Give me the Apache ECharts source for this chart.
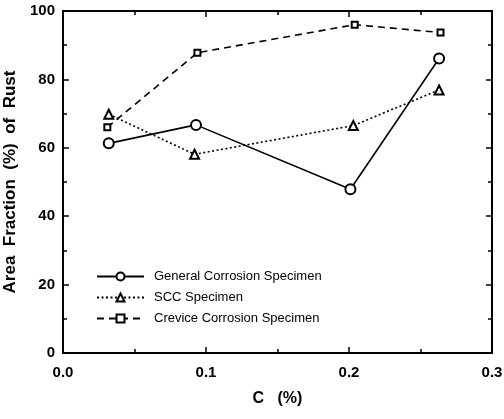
<!DOCTYPE html>
<html><head><meta charset="utf-8">
<script src="https://cdn.jsdelivr.net/npm/echarts@6/dist/echarts.min.js"></script>
<style>html,body{margin:0;padding:0;background:#fff}#c{width:504px;height:419px}</style>
</head><body><div id="c"></div>
<script>
const seriesNames = ["General Corrosion Specimen", "SCC Specimen", "Crevice Corrosion Specimen"];
const generalX = [0.032, 0.093, 0.201, 0.263];
const generalY = [61.3, 66.7, 47.9, 86.1];
const sccX = [0.032, 0.092, 0.203, 0.263];
const sccY = [69.8, 58.1, 66.5, 76.9];
const creviceX = [0.031, 0.094, 0.204, 0.264];
const creviceY = [66.0, 87.8, 96.0, 93.7];
const xTicks = [0.0, 0.1, 0.2, 0.3];
const yTicks = [0, 20, 40, 60, 80, 100];

const FONT = "'Liberation Sans',Arial,sans-serif";
const pair = (xs, ys) => xs.map((x, i) => [x, ys[i]]);

const xMin = xTicks[0], xMax = xTicks[xTicks.length - 1];
const yMin = yTicks[0], yMax = yTicks[yTicks.length - 1];
function axisStyle(extra) {
  return Object.assign({
    axisLine: {show: true, onZero: false, lineStyle: {color: '#000', width: 2}},
    axisTick: {show: true, inside: true, length: 6, lineStyle: {color: '#000', width: 1.5}},
    minorTick: {show: true, splitNumber: 2, length: 4, lineStyle: {color: '#000', width: 1.5}},
    splitLine: {show: false}
  }, extra);
}
const chart = echarts.init(document.getElementById('c'), null, {renderer: 'canvas'});
chart.setOption({
  animation: false,
  backgroundColor: '#fff',
  grid: {left: 63, right: 12, top: 11, bottom: 66, outerBoundsMode: 'none', containLabel: false,
         show: true, borderColor: '#000', borderWidth: 2, backgroundColor: 'transparent'},
  legend: {
    orient: 'vertical', left: 91, top: 265, itemWidth: 47, itemHeight: 10, itemGap: 8,
    data: seriesNames,
    textStyle: {fontFamily: FONT, fontSize: 13, color: '#000', padding: [0, 0, 0, 5]}
  },
  xAxis: [axisStyle({
    type: 'value', min: xMin, max: xMax, interval: 0.1, position: 'bottom',
    name: 'C   (%)', nameLocation: 'middle', nameGap: 38,
    nameTextStyle: {fontFamily: FONT, fontSize: 16, fontWeight: 'bold', color: '#000'},
    axisLabel: {fontFamily: FONT, fontSize: 15, fontWeight: 'bold', color: '#000', margin: 12, formatter: v => v.toFixed(1)}
  }), axisStyle({
    type: 'value', position: 'top', min: xMin, max: xMax, interval: 0.1,
    axisLabel: {show: true, fontSize: 8, color: '#fff', margin: 40}
  })],
  yAxis: [axisStyle({
    type: 'value', min: yMin, max: yMax, interval: 20, position: 'left',
    name: 'Area  Fraction  (%)  of  Rust', nameLocation: 'middle', nameGap: 42,
    nameTextStyle: {fontFamily: FONT, fontSize: 17, fontWeight: 'bold', color: '#000'},
    axisLabel: {fontFamily: FONT, fontSize: 15, fontWeight: 'bold', color: '#000', margin: 8}
  }), axisStyle({
    type: 'value', position: 'right', min: yMin, max: yMax, interval: 20,
    axisLabel: {show: true, fontSize: 8, color: '#fff', margin: 40}
  })],
  series: [
    {name: seriesNames[0], type: 'line', data: pair(generalX, generalY), symbol: 'emptyCircle', symbolSize: 10,
     lineStyle: {color: '#000', width: 1.6, type: 'solid'}, itemStyle: {color: '#000', borderWidth: 1.6}, z: 3},
    {name: seriesNames[1], type: 'line', xAxisIndex: 1, yAxisIndex: 1, data: pair(sccX, sccY), symbol: 'emptyTriangle', symbolSize: 9,
     lineStyle: {color: '#000', width: 1.6, type: [2, 2.5]}, itemStyle: {color: '#000', borderWidth: 1.6}, z: 3},
    {name: seriesNames[2], type: 'line', data: pair(creviceX, creviceY), symbol: 'emptyRect', symbolSize: 6,
     lineStyle: {color: '#000', width: 1.6, type: [7, 5]}, itemStyle: {color: '#000', borderWidth: 1.4}, z: 3}
  ]
});
</script></body></html>
